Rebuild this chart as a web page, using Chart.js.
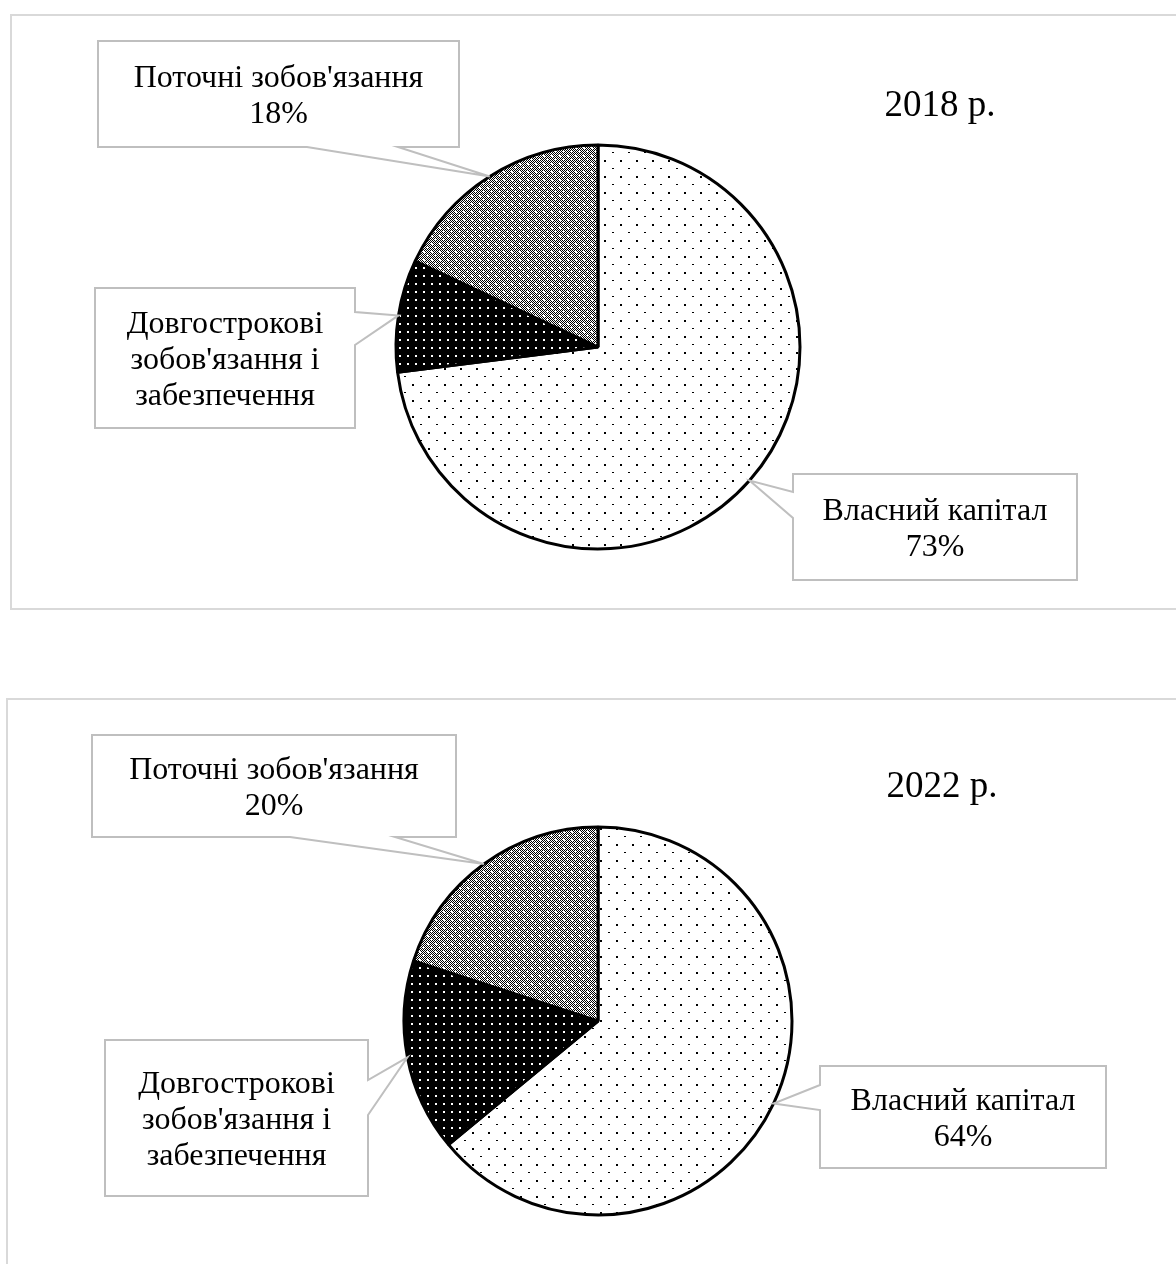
<!DOCTYPE html>
<html lang="uk">
<head>
<meta charset="utf-8">
<title>Структура капіталу</title>
<script src="https://cdn.jsdelivr.net/npm/chart.js@4.4.0/dist/chart.umd.min.js"></script>
<style>
  html, body { margin: 0; padding: 0; background: #fff; }
  body { width: 1176px; height: 1264px; overflow: hidden; position: relative; }
  .panel { position: absolute; border: 2px solid #d9d9d9; background: #fff; }
  #panel2018 { left: 10px; top: 14px; width: 1180px; height: 592px; }
  #panel2022 { left: 6px; top: 698px; width: 1180px; height: 600px; }
  .panel canvas { display: block; }
</style>
</head>
<body>
<div class="panel" id="panel2018"><canvas id="chart2018" width="1180" height="592"></canvas></div>
<div class="panel" id="panel2022"><canvas id="chart2022" width="1180" height="600"></canvas></div>

<script>
// Структура капіталу підприємства, %
const categories = ['Власний капітал', "Довгострокові зобов'язання і забезпечення", "Поточні зобов'язання"];
const values2018 = [73, 9, 18];
const values2022 = [64, 16, 20];
const yearTitles = ['2018 р.', '2022 р.'];

// Рядки підписів у виносках та чи показувати відсоток
const labelLines = [
    ['Власний капітал'],
    ['Довгострокові', "зобов'язання і", 'забезпечення'],
    ["Поточні зобов'язання"]
];
const showPercent = [true, false, true];

const FONT = '"Liberation Serif", "Times New Roman", serif';

// Штрихування секторів
function makePattern(size, draw) {
    const c = document.createElement('canvas');
    c.width = size;
    c.height = size;
    const g = c.getContext('2d');
    draw(g, size);
    return g.createPattern(c, 'repeat');
}

// дрібні крапки на білому
const patternDots = makePattern(16, (g, s) => {
    g.fillStyle = '#fff';
    g.fillRect(0, 0, s, s);
    g.fillStyle = '#000';
    g.fillRect(0, 0, 2, 2);
    g.fillRect(8, 8, 2, 1);
});

// білі крапки на чорному
const patternDark = makePattern(8, (g, s) => {
    g.fillStyle = '#000';
    g.fillRect(0, 0, s, s);
    g.fillStyle = '#fff';
    g.fillRect(3, 3, 2, 2);
});

// сіра сітка з білими цятками
const patternGrid = makePattern(8, (g, s) => {
    g.fillStyle = '#fff';
    g.fillRect(0, 0, s, s);
    g.fillStyle = '#000';
    for (let y = 0; y < s; y++) {
        for (let x = 0; x < s; x++) {
            if ((x + y) % 2 === 0) g.fillRect(x, y, 1, 1);
        }
    }
    g.fillStyle = '#fff';
    g.fillRect(3, 3, 2, 2);
    g.fillRect(7, 7, 1, 1);
});

const sliceFills = [patternDots, patternDark, patternGrid];

// Виноски з клиноподібним вказівником до середини сектора
const calloutPlugin = {
    id: 'callouts',
    afterDatasetsDraw(chart, args, opts) {
        const ctx = chart.ctx;
        const meta = chart.getDatasetMeta(0);
        const data = chart.data.datasets[0].data;
        const total = data.reduce((a, b) => a + b, 0);

        ctx.save();
        meta.data.forEach((arc, i) => {
            const spec = opts.boxes[i];
            if (!spec) return;
            const p = arc.getProps(['x', 'y', 'startAngle', 'endAngle', 'outerRadius'], true);
            const mid = (p.startAngle + p.endAngle) / 2;
            const tx = p.x + p.outerRadius * Math.cos(mid);
            const ty = p.y + p.outerRadius * Math.sin(mid);
            const { x, y, w, h, side, wedge } = spec;

            ctx.beginPath();
            if (side === 'bottom') {
                ctx.moveTo(x, y);
                ctx.lineTo(x + w, y);
                ctx.lineTo(x + w, y + h);
                ctx.lineTo(wedge[1], y + h);
                ctx.lineTo(tx, ty);
                ctx.lineTo(wedge[0], y + h);
                ctx.lineTo(x, y + h);
            } else if (side === 'right') {
                ctx.moveTo(x, y);
                ctx.lineTo(x + w, y);
                ctx.lineTo(x + w, wedge[0]);
                ctx.lineTo(tx, ty);
                ctx.lineTo(x + w, wedge[1]);
                ctx.lineTo(x + w, y + h);
                ctx.lineTo(x, y + h);
            } else {
                ctx.moveTo(x, y);
                ctx.lineTo(x + w, y);
                ctx.lineTo(x + w, y + h);
                ctx.lineTo(x, y + h);
                ctx.lineTo(x, wedge[1]);
                ctx.lineTo(tx, ty);
                ctx.lineTo(x, wedge[0]);
            }
            ctx.closePath();
            ctx.fillStyle = '#fff';
            ctx.fill();
            ctx.lineWidth = 2;
            ctx.strokeStyle = '#bfbfbf';
            ctx.lineJoin = 'miter';
            ctx.stroke();

            const lines = labelLines[i].slice();
            if (showPercent[i]) lines.push(Math.round(data[i] / total * 100) + '%');
            ctx.fillStyle = '#000';
            ctx.font = '32px ' + FONT;
            ctx.textAlign = 'center';
            ctx.textBaseline = 'middle';
            const lh = opts.lineHeight;
            const cx = x + w / 2;
            const cy = y + h / 2 - (lines.length - 1) * lh / 2;
            lines.forEach((t, k) => ctx.fillText(t, cx, cy + k * lh + 3));
        });

        ctx.font = '37px ' + FONT;
        ctx.textAlign = 'center';
        ctx.textBaseline = 'middle';
        ctx.fillStyle = '#000';
        ctx.fillText(opts.title, opts.titleX, opts.titleY);
        ctx.restore();
    }
};

function createPie(canvasId, values, title, pie, boxes, titlePos) {
    const canvas = document.getElementById(canvasId);
    const half = pie.r + 8;
    return new Chart(canvas, {
        type: 'pie',
        data: {
            labels: categories,
            datasets: [{
                data: values,
                backgroundColor: sliceFills,
                borderColor: '#000',
                borderWidth: 3,
                radius: pie.r
            }]
        },
        options: {
            responsive: false,
            animation: false,
            events: [],
            layout: {
                padding: {
                    left: pie.cx - half,
                    right: canvas.width - pie.cx - half,
                    top: pie.cy - half,
                    bottom: canvas.height - pie.cy - half
                }
            },
            plugins: {
                legend: { display: false },
                tooltip: { enabled: false },
                callouts: {
                    boxes: boxes,
                    lineHeight: 36,
                    title: title,
                    titleX: titlePos[0],
                    titleY: titlePos[1]
                }
            }
        },
        plugins: [calloutPlugin]
    });
}

createPie('chart2018', values2018, yearTitles[0],
    { cx: 586, cy: 331, r: 202 },
    [
        { x: 781, y: 458, w: 284, h: 106, side: 'left', wedge: [476, 502] },
        { x: 83, y: 272, w: 260, h: 140, side: 'right', wedge: [296, 329] },
        { x: 86, y: 25, w: 361, h: 106, side: 'bottom', wedge: [295, 386] }
    ],
    [928, 90]);

createPie('chart2022', values2022, yearTitles[1],
    { cx: 590, cy: 321, r: 194 },
    [
        { x: 812, y: 366, w: 286, h: 102, side: 'left', wedge: [385, 410] },
        { x: 97, y: 340, w: 263, h: 156, side: 'right', wedge: [380, 415] },
        { x: 84, y: 35, w: 364, h: 102, side: 'bottom', wedge: [282, 387] }
    ],
    [934, 87]);
</script>
</body>
</html>
